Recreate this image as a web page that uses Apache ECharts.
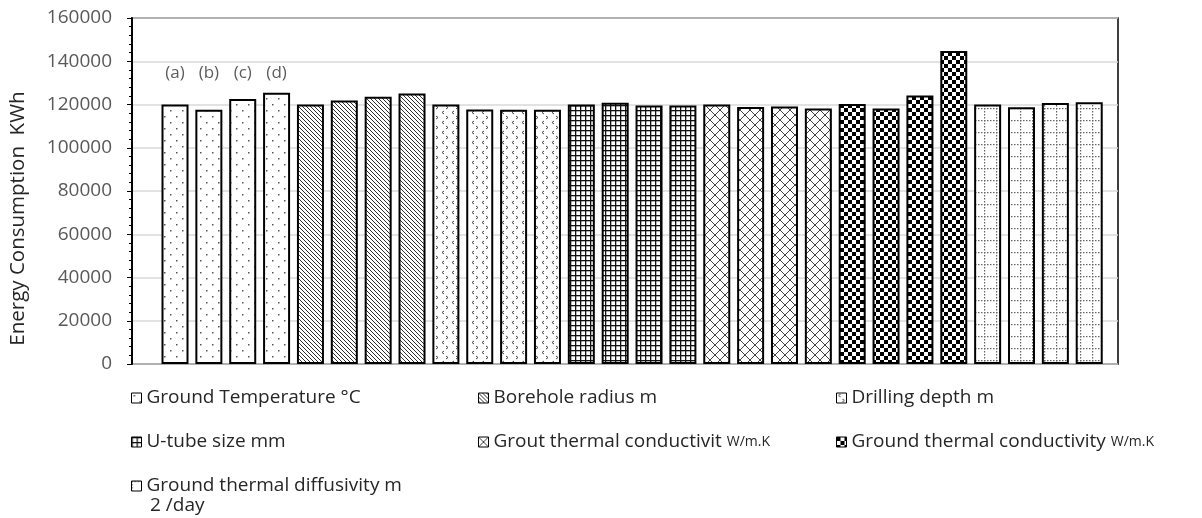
<!DOCTYPE html>
<html>
<head>
<meta charset="utf-8">
<script src="https://cdn.jsdelivr.net/npm/echarts@6/dist/echarts.min.js"></script>
<style>
  html, body { margin: 0; padding: 0; background: #fff; }
  #chart { width: 1202px; height: 518px; }
</style>
</head>
<body>
<div id="chart"></div>
<script>
// series names, in legend order
const seriesNames = [
  'Ground Temperature °C',
  'Borehole radius m',
  'Drilling depth m',
  'U-tube size mm',
  'Grout thermal conductivit W/m.K',
  'Ground thermal conductivity W/m.K',
  'Ground thermal diffusivity m'
]
const diffusivityUnitTail = '2 /day'

// bar heights (KWh), four cases (a)-(d) per parameter
const groundTemp = [120000, 117600, 122500, 125400]
const boreholeRadius = [120000, 121900, 123600, 125100]
const drillingDepth = [120000, 117700, 117600, 117600]
const uTubeSize = [120000, 120800, 119500, 119500]
const groutConductivity = [120000, 118900, 119100, 118100]
const groundConductivity = [120200, 118100, 124200, 144700]
const groundDiffusivity = [120000, 118700, 120700, 121000]

const caseLabels = ['(a)', '(b)', '(c)', '(d)']
const caseLabelLevel = 134400

const yTicks = { min: 0, max: 160000, interval: 20000 }

const allValues = [groundTemp, boreholeRadius, drillingDepth, uTubeSize,
  groutConductivity, groundConductivity, groundDiffusivity]

// ---- hatch patterns ----
const makePattern = (size, draw) => {
  const c = document.createElement('canvas')
  c.width = size
  c.height = size
  const ctx = c.getContext('2d')
  ctx.fillStyle = '#fff'
  ctx.fillRect(0, 0, size, size)
  draw(ctx, size)
  return { image: c, repeat: 'repeat' }
}

const patterns = [
  // sparse dots
  makePattern(12, (ctx) => {
    ctx.fillStyle = '#555'
    ctx.fillRect(2, 2, 1.5, 1.5)
    ctx.fillRect(8, 8, 1.5, 1.5)
  }),
  // dense "\" diagonals
  makePattern(4, (ctx, s) => {
    ctx.strokeStyle = '#333'
    ctx.lineWidth = 1
    ctx.beginPath()
    ctx.moveTo(-1, -1); ctx.lineTo(s + 1, s + 1)
    ctx.moveTo(-1, s - 1); ctx.lineTo(1, s + 1)
    ctx.moveTo(s - 1, -1); ctx.lineTo(s + 1, 1)
    ctx.stroke()
  }),
  // small chevrons
  makePattern(10, (ctx) => {
    ctx.strokeStyle = '#444'
    ctx.lineWidth = 1
    ctx.beginPath()
    ctx.moveTo(4, 1); ctx.lineTo(2, 2.5); ctx.lineTo(4, 4)
    ctx.moveTo(6, 6); ctx.lineTo(8, 7.5); ctx.lineTo(6, 9)
    ctx.stroke()
  }),
  // dark grid
  makePattern(5, (ctx, s) => {
    ctx.fillStyle = '#111'
    ctx.fillRect(0, 0, s, 1.3)
    ctx.fillRect(0, 0, 1.3, s)
  }),
  // diamond lattice
  makePattern(10, (ctx, s) => {
    ctx.strokeStyle = '#444'
    ctx.lineWidth = 1
    ctx.beginPath()
    ctx.moveTo(0, 0); ctx.lineTo(s, s)
    ctx.moveTo(s, 0); ctx.lineTo(0, s)
    ctx.stroke()
  }),
  // checkerboard
  makePattern(8, (ctx) => {
    ctx.fillStyle = '#000'
    ctx.fillRect(0, 0, 4, 4)
    ctx.fillRect(4, 4, 4, 4)
  }),
  // dotted grid
  makePattern(12, (ctx, s) => {
    ctx.fillStyle = '#666'
    for (let i = 0; i < s; i += 3) {
      ctx.fillRect(i, 0, 1.5, 1.2)
      ctx.fillRect(0, i, 1.2, 1.5)
    }
  })
]

const chart = echarts.init(document.getElementById('chart'))

const barSeries = seriesNames.map((name, si) => ({
  name,
  type: 'bar',
  barWidth: 27,
  barGap: '-100%',
  data: allValues[si].map((v, k) => [si * 4 + k + 1, v]),
  itemStyle: { color: patterns[si], borderColor: '#000', borderWidth: 2 },
  animation: false
}))

const legendFormatter = (name) => {
  if (name.endsWith(' W/m.K')) return name.replace(' W/m.K', ' ') + '{u|W/m.K}'
  return name
}

// one legend per item so the three columns line up like the original
const legendSpots = [
  [131, 387], [478, 387], [836, 387],
  [131, 431], [478, 431], [836, 431],
  [131, 475]
]

const legends = seriesNames.map((name, i) => ({
  left: legendSpots[i][0],
  top: legendSpots[i][1],
  padding: 0,
  itemWidth: 10,
  itemHeight: 10,
  icon: 'rect',
  itemStyle: { borderColor: '#000', borderWidth: 1 },
  formatter: legendFormatter,
  data: [name],
  textStyle: {
    fontFamily: 'Open Sans',
    fontSize: 19,
    lineHeight: 22,
    color: '#262626',
    rich: { u: { fontFamily: 'Open Sans', fontSize: 14, color: '#262626' } }
  }
}))

const option = {
  backgroundColor: '#fff',
  // second line of the last legend entry
  title: {
    text: diffusivityUnitTail,
    left: 150,
    top: 496,
    padding: 0,
    textStyle: { fontFamily: 'Open Sans', fontSize: 19, fontWeight: 'normal', color: '#262626' }
  },
  grid: { left: 131, right: 84, top: 18, bottom: 154, show: true, borderColor: '#000', borderWidth: 1.5 },
  xAxis: {
    type: 'value',
    min: -0.27,
    max: 28.85,
    axisLine: { show: false },
    axisTick: { show: false },
    axisLabel: { show: false },
    splitLine: { show: false }
  },
  yAxis: {
    type: 'value',
    min: yTicks.min,
    max: yTicks.max,
    interval: yTicks.interval,
    name: 'Energy Consumption  KWh',
    nameLocation: 'middle',
    nameGap: 103,
    nameTextStyle: { fontFamily: 'Open Sans', fontSize: 20.5, color: '#262626', padding: [0, 55, 0, 0] },
    axisLine: { show: true, onZero: false, lineStyle: { color: '#000', width: 2 } },
    axisTick: { show: true, length: 5, lineStyle: { color: '#000' } },
    minorTick: { show: true, splitNumber: 5, length: 3, lineStyle: { color: '#000' } },
    axisLabel: { fontFamily: 'Open Sans', fontSize: 19, color: '#595959', margin: 20, formatter: (v) => String(v) },
    splitLine: { lineStyle: { color: '#d9d9d9', width: 1.5 } }
  },
  legend: legends,
  series: [
    ...barSeries,
    {
      type: 'scatter',
      symbolSize: 1,
      itemStyle: { color: 'transparent' },
      data: caseLabels.map((t, k) => [k + 1, caseLabelLevel]),
      label: {
        show: true,
        position: 'inside',
        formatter: (p) => caseLabels[p.dataIndex],
        fontFamily: 'Open Sans',
        fontSize: 17,
        color: '#333'
      },
      animation: false
    }
  ]
}

chart.setOption(option)
</script>
</body>
</html>
